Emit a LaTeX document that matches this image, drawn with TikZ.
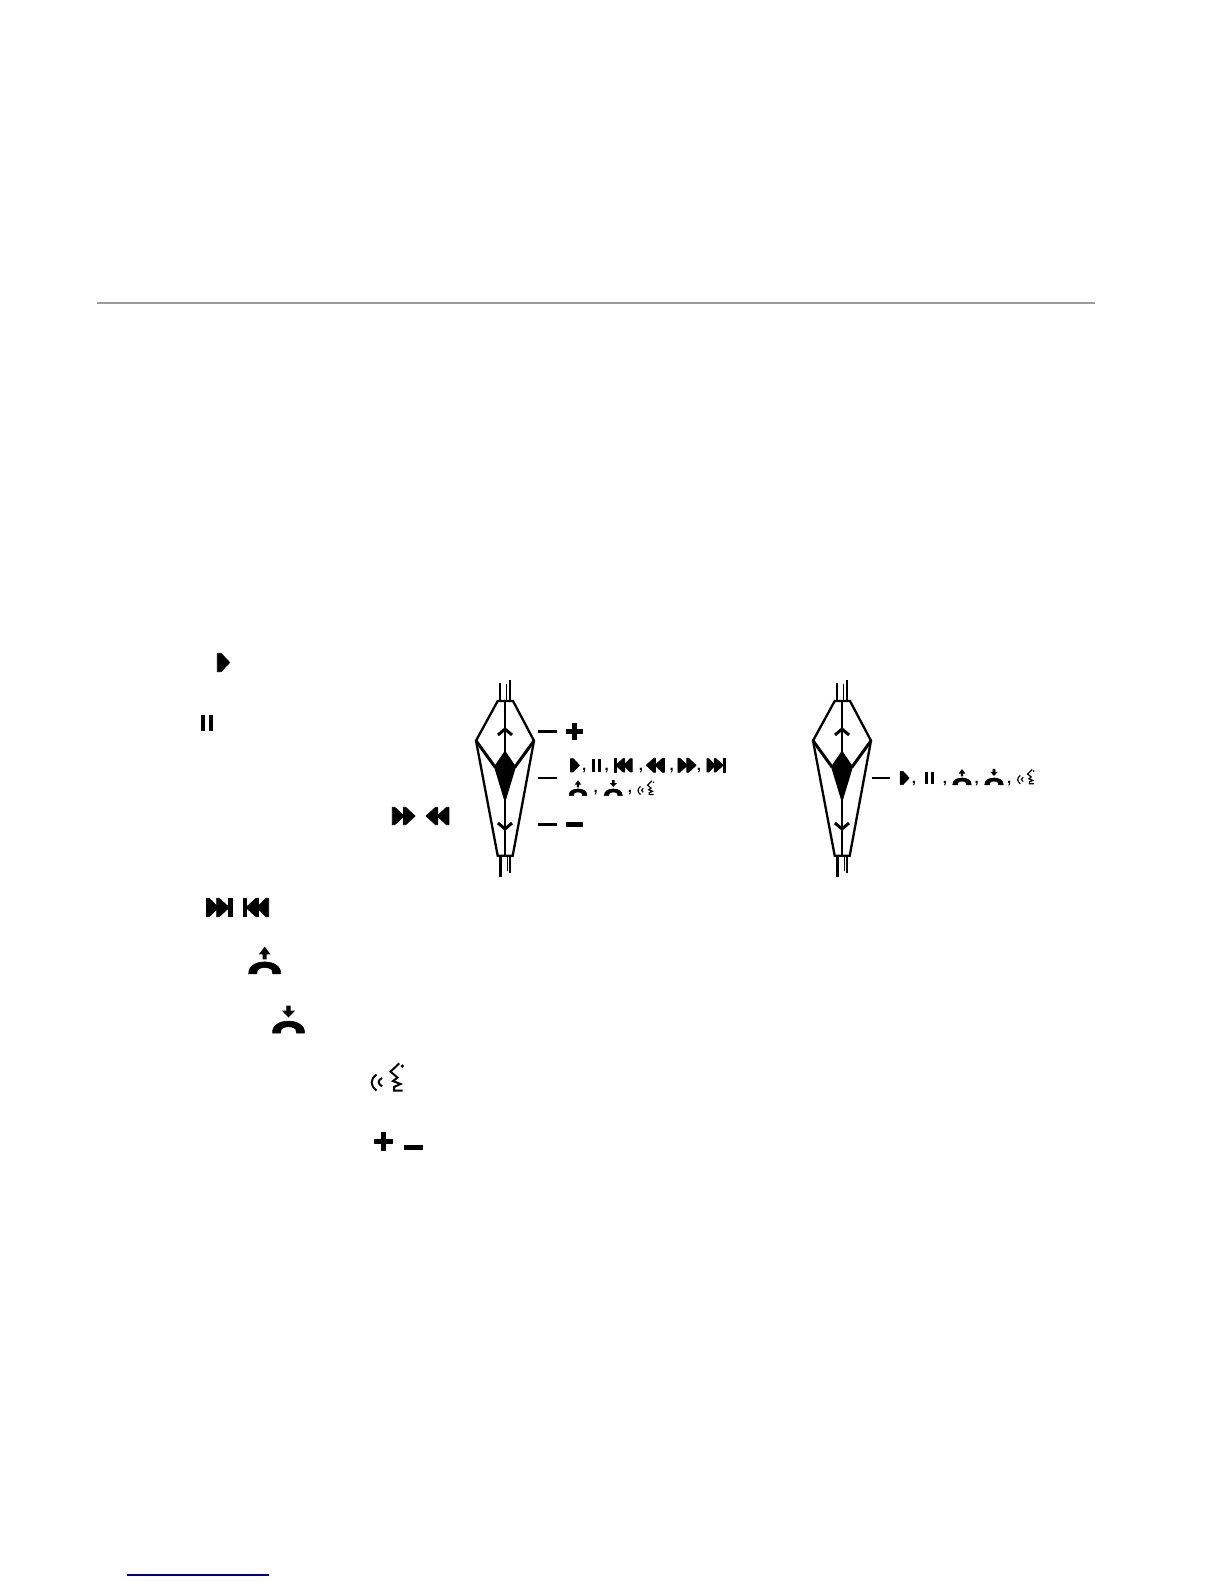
\documentclass[tikz,border=0pt]{standalone}
\usepackage{fontspec}
\setmainfont{Liberation Sans}
\definecolor{rulegrey}{HTML}{9A9A9A}
\definecolor{linknavy}{HTML}{00008B}
\newcommand{\handsetshape}{%
  \filldraw[black,line width=.5pt,line join=round] (-16,13.5) .. controls (-16.5,6) and (-9,1.6) .. (0,1.6)
      .. controls (9,1.6) and (16.5,6) .. (16,13.5)
      -- (8,13.5) -- (7.2,9.5)
      .. controls (4,6.4) and (-4,6.4) .. (-7.2,9.5)
      -- (-8,13.5) -- cycle;}
\tikzset{
  x=1pt,y=-1pt,
  sym/.style={fill=black,draw=black,line width=.7pt,line join=round},
  devstroke/.style={draw=black,line width=2.3pt},
  devthick/.style={draw=black,line width=3pt},
  leader/.style={draw=black,line width=2.5pt},
  commamark/.style={font=\bfseries\fontsize{15}{15}\selectfont,inner sep=0pt,anchor=base,text=black},
  pics/iplay/.style={code={\filldraw[sym] (-6.2,-9.2)--(-2.5,-9.2)--(6.2,0)--(-2.5,9.2)--(-6.2,9.2)--cycle;}},
  pics/ipause/.style={code={
    \filldraw[sym] (-5.6,-7.7) rectangle (-2.6,7.7);
    \filldraw[sym] (2.6,-7.7) rectangle (5.6,7.7);}},
  pics/iff/.style={code={
    \filldraw[sym] (-11.4,-8.7)--(-9,-8.7)--(0.5,0)--(-9,8.7)--(-11.4,8.7)--cycle;
    \filldraw[sym] (-0.3,-8.7)--(2,-8.7)--(11.4,0)--(2,8.7)--(-0.3,8.7)--cycle;}},
  pics/iskip/.style={code={
    \filldraw[sym] (-12.7,-9.2)--(-10,-9.2)--(-1,0)--(-10,9.2)--(-12.7,9.2)--cycle;
    \filldraw[sym] (-2.5,-9.2)--(0,-9.2)--(10,0)--(0,9.2)--(-2.5,9.2)--cycle;
    \filldraw[sym] (9.5,-9.2) rectangle (12.7,9.2);}},
  pics/icallup/.style={code={
    \handsetshape
    \fill[black] (0,-13.7)--(5.8,-6)--(2,-6)--(2,-1)--(-2,-1)--(-2,-6)--(-5.8,-6)--cycle;}},
  pics/icalldown/.style={code={
    \handsetshape
    \fill[black] (-2.2,-13.9)--(2.2,-13.9)--(2.2,-8.8)--(6.5,-8.8)--(0,-2)--(-6.5,-8.8)--(-2.2,-8.8)--cycle;}},
  pics/ispeech/.style={code={
    \draw[line width=#1,line join=miter] (11.8,-14.2)--(3,-5.8)--(10,0)--(5.5,3.5)--(13,6.5)--(6.5,9.5)--(6.5,13)--(15,13);
    \draw[line width=#1] (-11,-3) .. controls (-17.5,2) and (-17.5,8) .. (-11,13);
    \draw[line width=#1] (-5.5,.5) .. controls (-10,3) and (-10,6) .. (-5.5,8.8);
    \fill[black] (14.8,-11.5) circle (1.8);}},
  pics/iplus/.style={code={
    \filldraw[sym] (-9,-2.1) rectangle (9,2.1);
    \filldraw[sym] (-2.1,-8.9) rectangle (2.1,8.9);}},
  pics/iminus/.style={code={\filldraw[sym] (-9,-1.9) rectangle (9,1.9);}},
  pics/device/.style={code={
    % cables
    \draw[black,line width=2.6pt] (-5,-48)--(-5,-30);
    \draw[black,line width=2pt] (4.6,-51)--(4.6,-30);
    \draw[black,line width=1.3pt] (1.6,-47)--(1.6,-30);
    \draw[black,line width=2.6pt] (-4.3,125)--(-4.3,146);
    \draw[black,line width=2pt] (5.4,125)--(5.4,142);
    \draw[black,line width=1.3pt] (2.4,125)--(2.4,140);
    % body
    \draw[devstroke,line join=miter] (-7.3,-30)--(8,-30)--(29,9.7)--(7.7,124.7)--(-7.3,124.7)--(-29,9.7)--cycle;
    \draw[black,line width=2.2pt] (0,-30)--(0,125);
    % inner vee and black diamond
    \draw[devthick] (-29,9.7)--(-10,36);
    \draw[devthick] (29,9.7)--(10,36);
    \fill[black] (0,19.5)--(11,35.7)--(0,72)--(-11,35.7)--cycle;
    % chevrons
    \draw[devthick] (-7,4)--(0,-2)--(7,4);
    \draw[devthick] (-7,92)--(0,98)--(7,92);
  }}
}
\begin{document}
\begin{tikzpicture}
\useasboundingbox (0,0) rectangle (1224,1584);
\fill[white] (0,0) rectangle (1224,1584);
% header rule and footer link rule
\draw[rulegrey,line width=1.6pt] (97,302.7)--(1095,302.7);
\draw[linknavy,line width=1.2pt] (126.7,1575)--(269,1575);

% legend symbols at the left
\pic at (223.5,662.5) {iplay};
\pic at (206.7,723) {ipause};
\pic at (403.7,816) {iff};
\pic[xscale=-1] at (437.5,816) {iff};
\pic at (219.2,907.5) {iskip};
\pic[xscale=-1] at (256,907.5) {iskip};
\pic at (264.7,960.3) {icallup};
\pic at (288.5,1019.5) {icalldown};
\pic at (387.5,1077.5) {ispeech=2pt};
\pic at (383.4,1141) {iplus};
\pic at (413.4,1147.5) {iminus};

% first device
\pic at (505,731) {device};
\draw[leader] (538,731.3)--(557,731.3);
\draw[leader] (538,778)--(557,778);
\draw[leader] (538,824.3)--(557,824.3);
\pic[scale=.9] at (574,731.3) {iplus};
\pic[scale=.9] at (574,824.3) {iminus};
\pic[scale=.72] at (575,765.3) {iplay};
\node[commamark] (c1) at (584.3,770.5) {,};
\pic[scale=.72] at (596,765.3) {ipause};
\node[commamark] (c2) at (606.7,770.5) {,};
\pic[scale=.72,xscale=-1] at (623,765.3) {iskip};
\node[commamark] (c3) at (641,770.5) {,};
\pic[scale=.8,xscale=-1] at (655.3,765.3) {iff};
\node[commamark] (c4) at (671.7,770.5) {,};
\pic[scale=.8] at (687,765.3) {iff};
\node[commamark] (c5) at (699,770.5) {,};
\pic[scale=.72] at (716,765.3) {iskip};
\pic[scale=.56] at (578,788) {icallup};
\node[commamark] (c6) at (595.7,792) {,};
\pic[scale=.56] at (613.3,788) {icalldown};
\node[commamark] (c7) at (630,792) {,};
\pic[scale=.5] at (646,788) {ispeech=1.2pt};

% second device
\pic at (842,731) {device};
\draw[leader] (872,778)--(890,778);
\pic[scale=.72] at (904.7,778) {iplay};
\node[commamark] (d1) at (914,783.5) {,};
\pic[scale=.72] at (929.7,778) {ipause};
\node[commamark] (d2) at (945,783.5) {,};
\pic[scale=.58] at (962,777) {icallup};
\node[commamark] (d3) at (976.7,783.5) {,};
\pic[scale=.58] at (994,777) {icalldown};
\node[commamark] (d4) at (1009.3,783.5) {,};
\pic[scale=.52] at (1026,777) {ispeech=1.2pt};
\end{tikzpicture}
\end{document}
